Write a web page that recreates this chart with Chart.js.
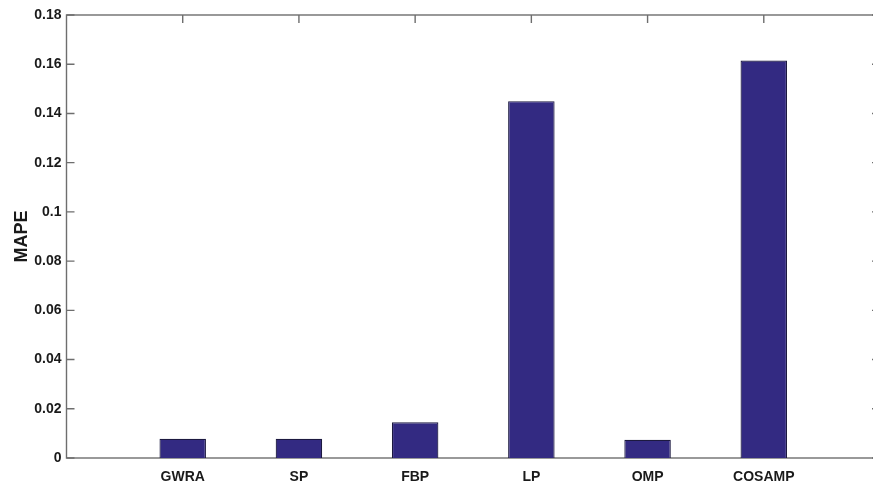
<!DOCTYPE html>
<html>
<head>
<meta charset="utf-8">
<script src="https://cdn.jsdelivr.net/npm/chart.js@4/dist/chart.umd.min.js"></script>
<style>
  html, body { margin: 0; padding: 0; background: #fff; overflow: hidden; }
  #wrap { width: 890px; height: 487px; }
</style>
</head>
<body>
<div id="wrap"><canvas id="c" width="890" height="487"></canvas></div>
<script>
// Mean absolute percentage error of each reconstruction method
const categories = ['GWRA', 'SP', 'FBP', 'LP', 'OMP', 'COSAMP'];
const mape = [0.0078, 0.0078, 0.0145, 0.145, 0.0074, 0.1615];
const yTicks = [0, 0.02, 0.04, 0.06, 0.08, 0.1, 0.12, 0.14, 0.16, 0.18];

const FONT = 'Liberation Sans, Arial, Helvetica, sans-serif';
const TEXT = '#1a1a1a';
const AXIS = '#6e6e6e';

// Box around the axes with short inward ticks on all four sides (drawn beneath the bars)
const boxPlugin = {
  id: 'box',
  beforeDatasetsDraw(chart) {
    const { ctx, chartArea: a, scales } = chart;
    const len = 8;
    ctx.save();
    ctx.strokeStyle = AXIS;
    ctx.lineWidth = 1.4;
    ctx.strokeRect(a.left, a.top, a.right - a.left, a.bottom - a.top);
    ctx.beginPath();
    scales.x.ticks.forEach(t => {
      const px = scales.x.getPixelForValue(t.value);
      ctx.moveTo(px, a.bottom); ctx.lineTo(px, a.bottom - len);
      ctx.moveTo(px, a.top); ctx.lineTo(px, a.top + len);
    });
    scales.y.ticks.forEach(t => {
      const py = scales.y.getPixelForValue(t.value);
      ctx.moveTo(a.left, py); ctx.lineTo(a.left + len, py);
      ctx.moveTo(a.right, py); ctx.lineTo(a.right - len, py);
    });
    ctx.stroke();
    ctx.restore();
  }
};

new Chart(document.getElementById('c'), {
  type: 'bar',
  data: {
    datasets: [{
      data: categories.map((c, i) => ({ x: i + 1, y: mape[i] })),
      backgroundColor: '#332a82',
      borderColor: '#1c1940',
      borderWidth: 1.2,
      barPercentage: 0.4,
      categoryPercentage: 1
    }]
  },
  options: {
    responsive: false,
    animation: false,
    devicePixelRatio: 1,
    layout: { padding: { top: 15, right: 10, left: 0, bottom: 0 } },
    plugins: { legend: { display: false }, tooltip: { enabled: false } },
    scales: {
      x: {
        type: 'linear',
        offset: false,
        min: 0,
        max: categories.length + 1,
        afterBuildTicks(scale) {
          scale.ticks = categories.map((c, i) => ({ value: i + 1 }));
        },
        afterFit(scale) { scale.height = 29; },
        grid: { display: false, drawTicks: false, offset: false },
        border: { display: false },
        ticks: {
          padding: 11,
          color: TEXT,
          font: { family: FONT, size: 14, weight: 'bold' },
          callback: v => categories[v - 1] || ''
        }
      },
      y: {
        min: 0,
        max: 0.18,
        afterBuildTicks(scale) {
          scale.ticks = yTicks.map(v => ({ value: v }));
        },
        afterFit(scale) { scale.width = 66.5; },
        grid: { display: false, drawTicks: false },
        border: { display: false },
        ticks: {
          padding: 5,
          color: TEXT,
          font: { family: FONT, size: 14, weight: 'bold' },
          callback: v => String(parseFloat(Number(v).toFixed(2)))
        },
        title: {
          display: true,
          text: 'MAPE',
          color: TEXT,
          padding: { top: 11, bottom: 0 },
          font: { family: FONT, size: 18, weight: 'bold' }
        }
      }
    }
  },
  plugins: [boxPlugin]
});
</script>
</body>
</html>
